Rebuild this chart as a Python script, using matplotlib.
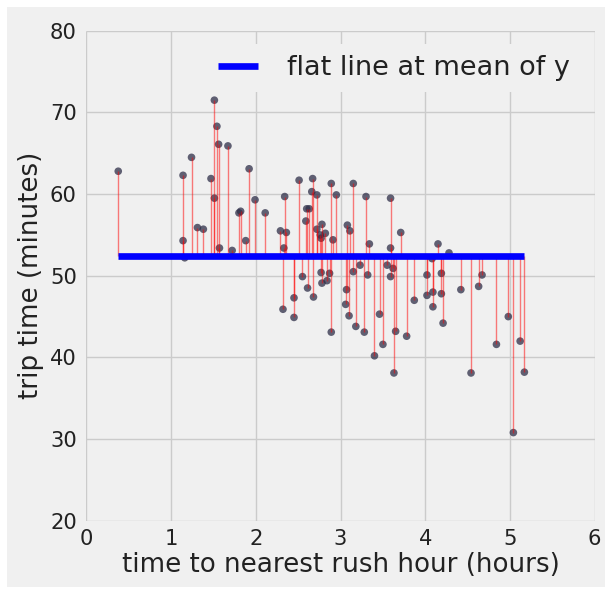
import matplotlib
matplotlib.use("Agg")
import matplotlib.pyplot as plt
from matplotlib.patches import Rectangle
import numpy as np

plt.style.use("fivethirtyeight")

x_hours = [0.375, 1.14, 1.24, 1.14, 1.16, 1.31, 1.38, 1.47, 1.51, 1.51, 1.54, 1.56,
           1.67, 1.57, 1.72, 1.80, 1.82, 1.88, 1.92, 1.99, 2.11, 2.29, 2.33, 2.34,
           2.36, 2.51, 2.60, 2.63, 2.59, 2.67, 2.66, 2.72, 2.89, 2.95, 3.15, 3.30,
           3.59, 2.72, 2.78, 2.76, 2.82, 2.77, 2.91, 3.08, 3.11, 3.34, 3.59, 3.71,
           2.55, 2.77, 2.87, 3.23, 3.15, 3.32, 3.55, 3.62, 3.59, 4.02, 2.61, 2.78,
           2.84, 3.07, 2.45, 2.68, 2.32, 2.45, 3.06, 3.10, 3.18, 3.28, 2.89, 3.46,
           3.87, 4.02, 3.65, 3.78, 3.50, 3.40, 3.63, 4.15, 4.28, 4.08, 4.19, 4.67,
           4.63, 4.42, 4.09, 4.19, 4.09, 4.21, 4.54, 4.84, 4.98, 5.12, 5.17, 5.04]
y_minutes = [62.8, 62.3, 64.5, 54.3, 52.2, 55.9, 55.7, 61.9, 71.5, 59.5, 68.3, 66.1,
             65.9, 53.4, 53.1, 57.7, 57.9, 54.3, 63.1, 59.3, 57.7, 55.5, 53.4, 59.7,
             55.3, 61.7, 58.2, 58.2, 56.7, 61.9, 60.3, 59.9, 61.3, 59.9, 61.3, 59.7,
             59.5, 55.7, 56.3, 55.0, 55.2, 54.6, 54.4, 56.2, 55.5, 53.9, 53.4, 55.3,
             49.9, 50.4, 50.3, 51.3, 50.5, 50.1, 51.3, 50.9, 49.9, 50.1, 48.5, 49.1,
             49.4, 48.3, 47.3, 47.4, 45.9, 44.9, 46.5, 45.1, 43.8, 43.1, 43.1, 45.3,
             47.0, 47.6, 43.2, 42.6, 41.6, 40.2, 38.1, 53.9, 52.8, 52.1, 50.3, 50.1,
             48.7, 48.3, 48.0, 47.8, 46.2, 44.2, 38.1, 41.6, 45.0, 42.0, 38.2, 30.8]
x_ticks = [0, 1, 2, 3, 4, 5, 6]
y_ticks = [20, 30, 40, 50, 60, 70, 80]

x = np.array(x_hours)
y = np.array(y_minutes)
mean_y = y.mean()

fig = plt.figure(figsize=(6.09, 5.89), dpi=100, facecolor="white")
fig.patches.append(Rectangle((7 / 609, 2 / 589), 598 / 609, 580 / 589,
                             transform=fig.transFigure, facecolor="#f0f0f0",
                             edgecolor="none", zorder=-10))
ax = fig.add_axes([0.142, 0.1158, 0.8345, 0.832])
ax.set_facecolor("#f0f0f0")

ax.scatter(x, y, s=30, color="#2e2e48", alpha=0.75, edgecolors="none", zorder=3)
ax.vlines(x, mean_y, y, colors="red", alpha=0.5, linewidth=1, zorder=4)
ax.plot([x.min(), x.max()], [mean_y, mean_y], color="blue", linewidth=4.8,
        label="flat line at mean of y", zorder=5, solid_capstyle="butt")

ax.set_xlim(0, 6)
ax.set_ylim(20, 80)
ax.set_xticks(x_ticks)
ax.set_yticks(y_ticks)
ax.tick_params(labelsize=15.2, length=0, labelcolor="#222222")
ax.tick_params(axis="x", pad=6)
ax.tick_params(axis="y", pad=7)
ax.grid(True, color="#cbcbcb", linewidth=1)
for s in ax.spines.values():
    s.set_visible(False)
ax.set_xlabel("time to nearest rush hour (hours)", fontsize=18.8, labelpad=2,
              color="#222222")
ax.set_ylabel("trip time (minutes)", fontsize=18.8, labelpad=4, color="#222222")
leg = ax.legend(loc="upper right", fontsize=19.5, frameon=True, handlelength=1.46,
                handletextpad=1.1, borderpad=0.4, borderaxespad=0.5, fancybox=False,
                shadow=False, labelcolor="#222222")
leg.get_frame().set_facecolor("#f0f0f0")
leg.get_frame().set_edgecolor("none")
leg.get_frame().set_alpha(1)
leg.set_zorder(10)

fig.savefig("out.png", dpi=100, facecolor=fig.get_facecolor())
